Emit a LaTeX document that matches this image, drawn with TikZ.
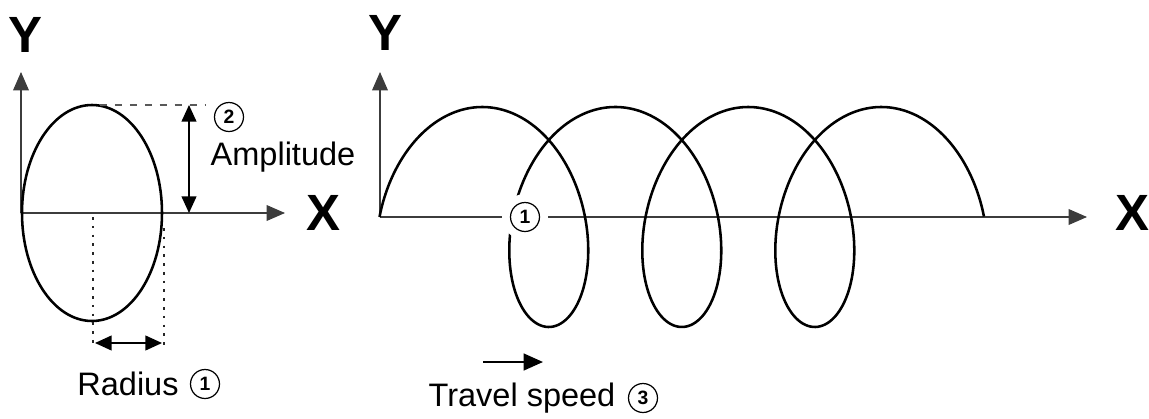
\documentclass[tikz,border=0pt]{standalone}
\usepackage{fontspec}
\setmainfont{Liberation Sans}
\usetikzlibrary{arrows.meta}
\definecolor{kaxis}{HTML}{3C3C3C}

\tikzset{
  axisline/.style={kaxis, line width=0.6pt, -{Triangle[length=10.5pt,width=9pt]}},
  pathline/.style={black, line width=1.45pt},
  dimline/.style={black, line width=0.8pt,
    {Triangle[length=9.5pt,width=8.5pt]}-{Triangle[length=9.5pt,width=8.5pt]}},
  dashguide/.style={black!65, line width=0.8pt, dash pattern=on 4pt off 4.5pt},
  dotguide/.style={black!85, line width=1.5pt, dash pattern=on 1.5pt off 3.5pt},
  axislabel/.style={font=\fontsize{29}{30}\selectfont\bfseries},
  textlabel/.style={font=\fontsize{18.5}{20}\selectfont},
  numcirc/.style={circle, draw, line width=0.7pt, minimum size=16.5pt, inner sep=0pt,
    font=\fontsize{11}{11}\selectfont\bfseries},
}

\begin{document}
\begin{tikzpicture}[x=0.02cm, y=-0.02cm]
  \useasboundingbox (0,0) rectangle (1149,419);

  %% ── Left: one turn of the oscillation ─────────────────────────────────
  \coordinate (o1) at (21,213);
  \coordinate (y1tip) at (21,72);
  \coordinate (x1tip) at (285,213);
  \draw[axisline] (o1) -- (y1tip);
  \draw[axisline] (o1) -- (x1tip);
  \node[axislabel] (ylab1) at (25,35) {Y};
  \node[axislabel] (xlab1) at (323,213) {X};

  \coordinate (ellc) at (92,213);
  \draw[pathline] (ellc) ellipse [x radius=70, y radius=108];

  %% Amplitude
  \coordinate (elltop) at (100,105);
  \coordinate (dashend) at (205,105);
  \draw[dashguide] (elltop) -- (dashend);
  \coordinate (amptop) at (189,105);
  \coordinate (ampbot) at (189,213);
  \draw[dimline] (amptop) -- (ampbot);
  \node[numcirc] (num2) at (229,117) {2};
  \node[textlabel] (amplab) at (283,157) {Amplitude};

  %% Radius
  \coordinate (radlt) at (93,217);
  \coordinate (radlb) at (93,345);
  \coordinate (radrt) at (164,228);
  \coordinate (radrb) at (164,345);
  \draw[dotguide] (radlt) -- (radlb);
  \draw[dotguide] (radrt) -- (radrb);
  \coordinate (radl) at (95,343);
  \coordinate (radr) at (162,343);
  \draw[dimline] (radl) -- (radr);
  \node[textlabel] (radlab) at (128,384) {Radius};
  \node[numcirc] (num1a) at (205,384) {1};

  %% ── Right: oscillation while travelling ───────────────────────────────
  \coordinate (o2) at (380,217);
  \coordinate (y2tip) at (380,72);
  \coordinate (x2tip) at (1087,217);
  \draw[axisline] (o2) -- (y2tip);
  \draw[axisline] (o2) -- (x2tip);
  \node[axislabel] (ylab2) at (385,33) {Y};
  \node[axislabel] (xlab2) at (1132,213) {X};

  \draw[pathline] plot[domain=0:7*pi, samples=420, smooth, variable=\t]
    ({449+21.17*\t-69.5*cos(\t r)}, {217-110*sin(\t r)});

  \coordinate (gap) at (525,217);
  \fill[white] (gap) circle (23);
  \node[numcirc] (num1b) at (gap) {1};

  %% Travel speed
  \coordinate (tsa) at (483,362);
  \coordinate (tsb) at (543,362);
  \draw[black, line width=1.3pt, -{Triangle[length=11pt,width=9.5pt]}] (tsa) -- (tsb);
  \node[textlabel] (tslab) at (522,398) {Travel speed};
  \node[numcirc] (num3) at (643,398) {3};

\end{tikzpicture}
\end{document}
